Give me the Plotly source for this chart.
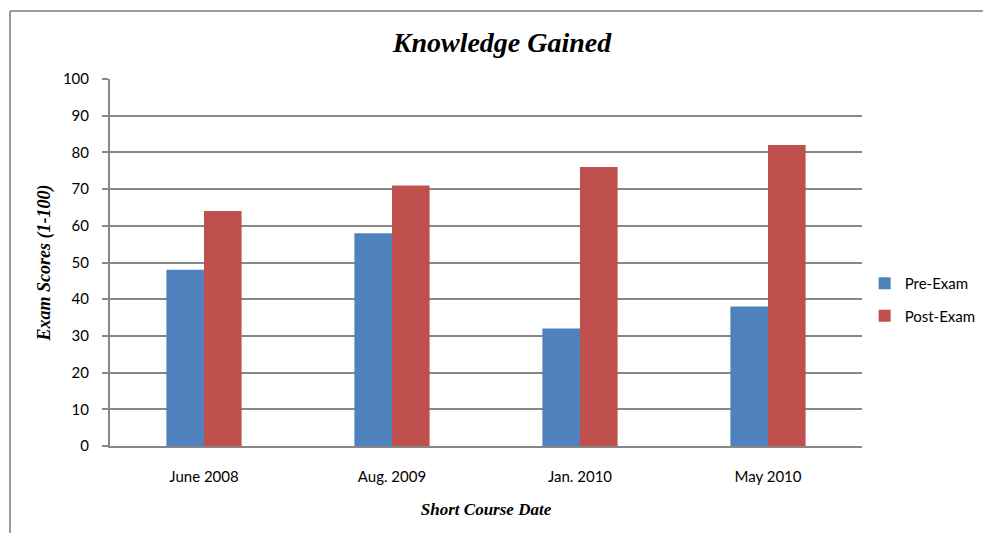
import plotly.graph_objects as go

categories = ["June 2008", "Aug. 2009", "Jan. 2010", "May 2010"]
pre_exam = [48, 58, 32, 38]
post_exam = [64, 71, 76, 82]
y_ticks = [0, 10, 20, 30, 40, 50, 60, 70, 80, 90, 100]

W, H = 983, 533
L, R, T, B = 110, 121, 79, 87

fig = go.Figure()
fig.add_trace(go.Bar(name="Pre-Exam", x=categories, y=pre_exam,
                     marker=dict(color="#4F81BD", line=dict(width=0)),
                     legendgroup="a"))
fig.add_trace(go.Bar(name="Post-Exam", x=categories, y=post_exam,
                     marker=dict(color="#C0504D", line=dict(width=0)),
                     legendgroup="b"))

serif = "Liberation Serif"
fig.update_layout(
    width=W, height=H,
    margin=dict(l=L, r=R, t=T, b=B, pad=0, autoexpand=False),
    paper_bgcolor="white", plot_bgcolor="white",
    barmode="group", bargap=0.6, bargroupgap=0,
    title=dict(text="<b><i>Knowledge Gained</i></b>",
               font=dict(family=serif, size=28, color="black"),
               x=502 / W, xref="container", xanchor="center",
               y=1 - 42 / H, yref="container", yanchor="middle"),
    font=dict(family="Lato", size=15, color="black"),
    legend=dict(x=1.0035, xanchor="left", y=(446 - 299.5) / 367, yanchor="middle",
                font=dict(family="Lato", size=15, color="black"),
                tracegroupgap=10, itemwidth=30, bgcolor="rgba(0,0,0,0)"),
    showlegend=True,
)
fig.update_yaxes(range=[0, 100], tickvals=y_ticks, showgrid=True,
                 gridcolor="#878787", gridwidth=2,
                 showline=True, linecolor="#878787", linewidth=2,
                 ticks="outside", ticklen=6, tickcolor="#878787", tickwidth=2,
                 ticklabelstandoff=10, zeroline=False,
                 tickfont=dict(family="Lato", size=15),
                 title=dict(text="<b><i>Exam Scores (1-100)</i></b>",
                            font=dict(family=serif, size=18), standoff=8))
fig.update_xaxes(showline=True, linecolor="#878787", linewidth=2, ticks="",
                 ticklabelstandoff=16, tickfont=dict(family="Lato", size=15),
                 title=dict(text="<b><i>Short Course Date</i></b>",
                            font=dict(family=serif, size=17), standoff=19))

# outer frame lines (top and left edge of the chart border)
fig.add_shape(type="line", xref="paper", yref="paper",
              x0=-(L - 10) / (W - L - R), x1=(W - L) / (W - L - R),
              y0=1 + (T - 11) / (H - T - B), y1=1 + (T - 11) / (H - T - B),
              line=dict(color="#9a9a9a", width=2))
fig.add_shape(type="line", xref="paper", yref="paper",
              x0=-(L - 10) / (W - L - R), x1=-(L - 10) / (W - L - R),
              y0=1 + (T - 11) / (H - T - B), y1=-B / (H - T - B),
              line=dict(color="#9a9a9a", width=2))

fig.write_html("out.html", config={"displayModeBar": False},
               post_script="document.body.style.margin='0';")
